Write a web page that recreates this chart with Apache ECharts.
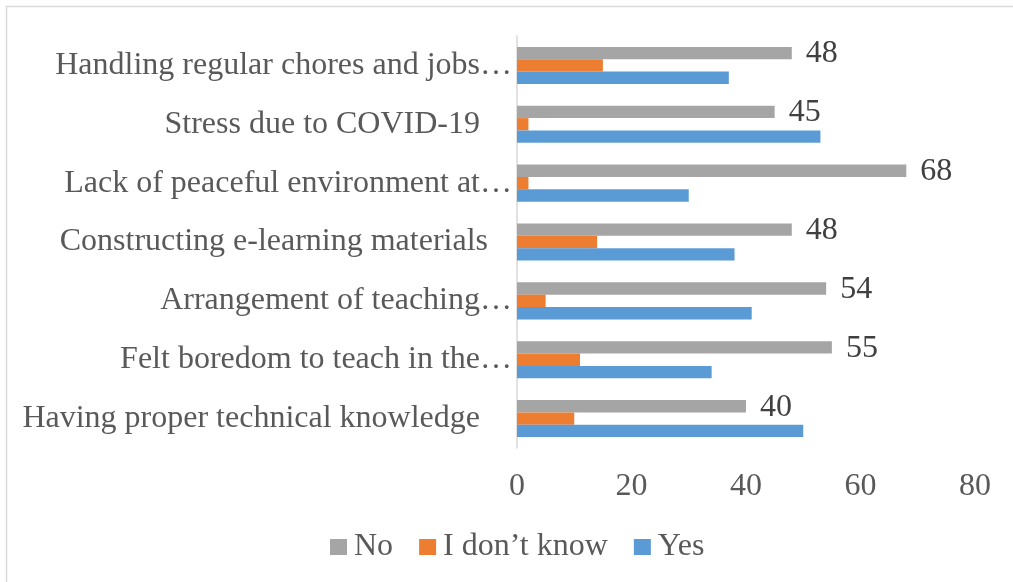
<!DOCTYPE html>
<html>
<head>
<meta charset="utf-8">
<script src="https://cdn.jsdelivr.net/npm/echarts@6/dist/echarts.min.js"></script>
<style>
  html, body { margin: 0; padding: 0; background: #fff; }
  #main { width: 1013px; height: 582px; }
</style>
</head>
<body>
<div id="main"></div>
<script>
// categories, top to bottom as in the picture
const categories = [
  'Handling regular chores and jobs…',
  'Stress due to COVID-19    ',
  'Lack of peaceful environment at…',
  'Constructing e-learning materials   ',
  'Arrangement of teaching…',
  'Felt boredom to teach in the…',
  'Having proper technical knowledge    '
]
const seriesNames = ['No', 'I don’t know', 'Yes']
const noValues = [48, 45, 68, 48, 54, 55, 40]
const dontKnowValues = [15, 2, 2, 14, 5, 11, 10]
const yesValues = [37, 53, 30, 38, 41, 34, 50]
const xTicks = [0, 20, 40, 60, 80]

const colorList = ['#A5A5A5', '#ED7D31', '#5B9BD5']
const fontFamily = '"Liberation Serif", "Times New Roman", serif'

const chart = echarts.init(document.getElementById('main'))

const valueSets = [noValues, dontKnowValues, yesValues]
const series = seriesNames.map((name, i) => ({
  name: name,
  type: 'bar',
  data: valueSets[i],
  barGap: '0%',
  barCategoryGap: '37%',
  itemStyle: { color: colorList[i] },
  // only the "No" bars carry a value label in the original
  label: {
    show: i === 0,
    position: 'right',
    distance: 14,
    offset: [0, 1],
    color: '#404040',
    fontSize: 32,
    fontFamily: fontFamily
  },
  emphasis: { disabled: true }
}))

const option = {
  animation: false,
  backgroundColor: '#fff',
  graphic: [{
    type: 'rect',
    shape: { x: 6.5, y: 6.5, width: 1030, height: 600 },
    style: { fill: 'none', stroke: '#D9D9D9', lineWidth: 1.5 }
  }],
  grid: {
    left: 517,
    right: 38,
    top: 36,
    bottom: 134
  },
  legend: {
    data: seriesNames,
    left: 330,
    top: 531,
    padding: 0,
    icon: 'rect',
    itemWidth: 17,
    itemHeight: 16,
    itemGap: 26,
    textStyle: {
      color: '#595959',
      fontSize: 32,
      fontFamily: fontFamily,
      padding: [0, 0, 0, 2]
    }
  },
  xAxis: {
    type: 'value',
    min: xTicks[0],
    max: xTicks[xTicks.length - 1],
    interval: 20,
    axisLine: { show: false },
    axisTick: { show: false },
    splitLine: { show: false },
    axisLabel: {
      color: '#595959',
      fontSize: 32,
      fontFamily: fontFamily,
      margin: 23
    }
  },
  yAxis: {
    type: 'category',
    data: categories,
    inverse: true,
    axisLine: { show: true, lineStyle: { color: '#D9D9D9', width: 1.5 } },
    axisTick: { show: false },
    axisLabel: {
      color: '#595959',
      fontSize: 32,
      fontFamily: fontFamily,
      margin: 5
    }
  },
  series: series
}

chart.setOption(option)
</script>
</body>
</html>
